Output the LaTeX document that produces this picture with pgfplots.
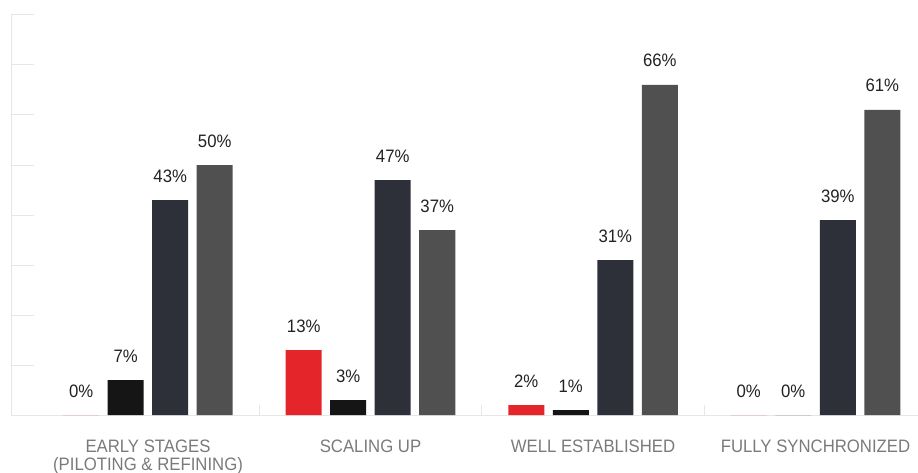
\documentclass[border=0pt]{standalone}
\usepackage{fontspec}
\setmainfont{Liberation Sans}[FakeStretch=0.93]
\usepackage{pgfplots}
\pgfplotsset{compat=1.18}
\definecolor{cred}{HTML}{E4262A}
\definecolor{cblack}{HTML}{151515}
\definecolor{cnavy}{HTML}{2D3039}
\definecolor{cgray}{HTML}{505050}
\definecolor{axgray}{HTML}{E6E6E6}
\definecolor{labgray}{HTML}{7A7A7A}
\definecolor{valtxt}{HTML}{222222}
\begin{document}
\begin{tikzpicture}
\begin{axis}[
  at={(0pt,0pt)}, anchor=south west,
  scale only axis, width=907pt, height=400pt,
  xmin=-0.6157, xmax=3.4607, ymin=0, ymax=80,
  axis x line*=bottom, axis y line*=left,
  axis line style={axgray, line width=1pt, -},
  ybar=8.5pt, bar width=36pt,
  xtick={0,1,2,3},
  xticklabels={{EARLY STAGES\\(PILOTING \& REFINING)}, SCALING UP, WELL ESTABLISHED, FULLY SYNCHRONIZED},
  x tick style={draw=none},
  xticklabel style={align=center, anchor=north, inner sep=0pt, yshift=-25pt, text=labgray, font=\fontsize{18}{18}\selectfont},
  ytick={0,10,...,80}, yticklabels={},
  y tick style={axgray, line width=1pt},
  major tick length=23pt, tick align=inside,
  /pgf/number format/assume math mode=true,
  nodes near coords={\pgfmathprintnumber{\pgfplotspointmeta}\%},
  every node near coord/.append style={anchor=base, yshift=18pt, text=valtxt, font=\fontsize{18}{20}\selectfont},
  clip=false,
]
\addplot[fill=cred, draw=none] coordinates {(0,0) (1,13) (2,2) (3,0)};
\addplot[fill=cblack, draw=none] coordinates {(0,7) (1,3) (2,1) (3,0)};
\addplot[fill=cnavy, draw=none] coordinates {(0,43) (1,47) (2,31) (3,39)};
\addplot[fill=cgray, draw=none] coordinates {(0,50) (1,37) (2,66) (3,61)};
\draw[axgray, line width=1pt] (axis cs:0.5,0) -- (axis cs:0.5,2);
\draw[axgray, line width=1pt] (axis cs:1.5,0) -- (axis cs:1.5,2);
\draw[axgray, line width=1pt] (axis cs:2.5,0) -- (axis cs:2.5,2);
\end{axis}
\pgfresetboundingbox
\path (-11pt,-57pt) rectangle (907pt,415pt);
\end{tikzpicture}
\end{document}
